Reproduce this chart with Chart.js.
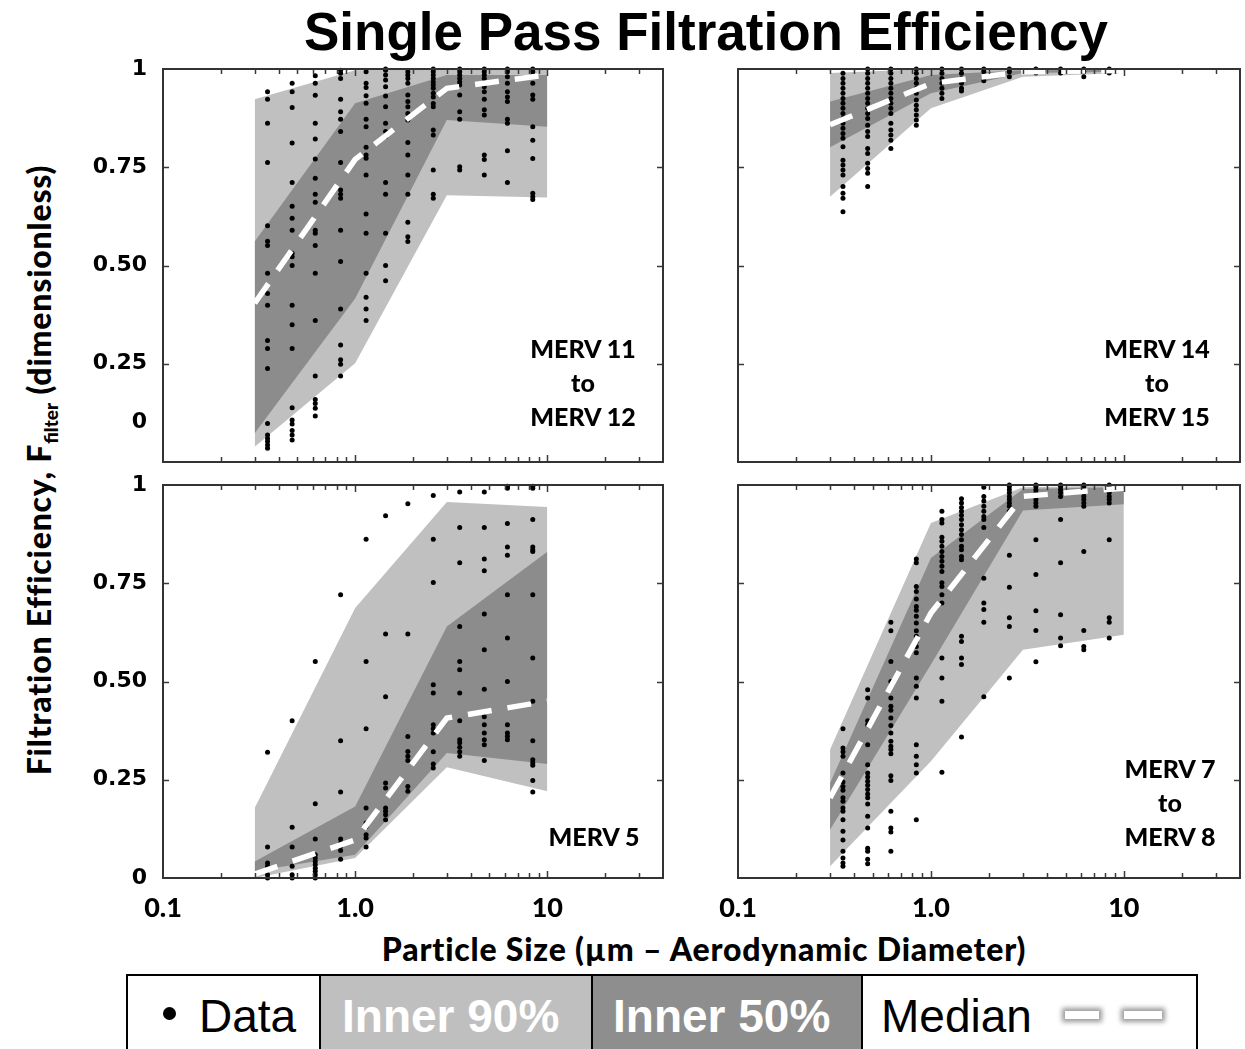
<!DOCTYPE html>
<html>
<head>
<meta charset="utf-8">
<script src="https://cdn.jsdelivr.net/npm/chart.js@4.4.1/dist/chart.umd.min.js"></script>
<style>
  html, body { margin: 0; padding: 0; background: #fff; }
  #wrap { position: relative; width: 1245px; height: 1049px; overflow: hidden; font-family: Lato, "Open Sans", sans-serif; }
  canvas { position: absolute; }
  .txt { position: absolute; font-weight: 900; color: #000; white-space: nowrap; }
  #title { left: 706px; top: 5px; transform: translateX(-50%); font: bold 53px "Liberation Sans", Arial, sans-serif; line-height: 53px; }
  #ytitle { left: 40px; top: 470px; transform: translate(-50%, -50%) rotate(-90deg); font-size: 32px; letter-spacing: 0.8px; }
  #ytitle sub { font-size: 19px; vertical-align: -7px; letter-spacing: 0; }
  #xtitle { left: 704px; top: 948px; transform: translate(-50%, -50%); font-size: 32px; letter-spacing: 0.8px; }
  .merv { text-align: center; font-size: 25px; line-height: 34px; transform: translateX(-50%); }
  #legend { position: absolute; left: 126px; top: 974px; width: 1068px; height: 100px; border: 2px solid #000; display: flex; font-family: "Liberation Sans", Arial, sans-serif; }
  #legend .cell { position: relative; height: 100%; box-sizing: border-box; }
  #legend .cell + .cell { border-left: 2px solid #000; }
  .ltxt { position: absolute; top: 14px; font-size: 46px; line-height: 52px; }
  .dash { position: absolute; top: 35px; height: 8px; background: #fff; box-shadow: 0 0 5px 3px #9a9a9a; }
</style>
</head>
<body>
<div id="wrap">
  <div id="title" class="txt">Single Pass Filtration Efficiency</div>
  <div id="ytitle" class="txt">Filtration Efficiency, F<sub>filter</sub> (dimensionless)</div>
  <div id="xtitle" class="txt">Particle Size (µm – Aerodynamic Diameter)</div>

  <canvas id="c11" width="693" height="453" style="left:0; top:39px;"></canvas>
  <canvas id="c14" width="537" height="453" style="left:708px; top:39px;"></canvas>
  <canvas id="c5" width="693" height="468" style="left:0; top:455px;"></canvas>
  <canvas id="c7" width="552" height="468" style="left:693px; top:455px;"></canvas>

  <div class="txt merv" style="left:583px; top:331px;">MERV 11<br>to<br>MERV 12</div>
  <div class="txt merv" style="left:1157px; top:331px;">MERV 14<br>to<br>MERV 15</div>
  <div class="txt merv" style="left:594px; top:819px;">MERV 5</div>
  <div class="txt merv" style="left:1170px; top:751px;">MERV 7<br>to<br>MERV 8</div>

  <div id="legend">
    <div class="cell" style="width:191px; background:#fff;">
      <div style="position:absolute; left:35px; top:31px; width:13px; height:13px; border-radius:50%; background:#000;"></div>
      <div class="ltxt" style="left:71px;">Data</div>
    </div>
    <div class="cell" style="width:272px; background:#bfbfbf;">
      <div class="ltxt" style="left:21px; color:#fff; font-weight:bold;">Inner 90%</div>
    </div>
    <div class="cell" style="width:270px; background:#8e8e8e;">
      <div class="ltxt" style="left:20px; color:#fff; font-weight:bold;">Inner 50%</div>
    </div>
    <div class="cell" style="flex:1; background:#fff;">
      <div class="ltxt" style="left:18px;">Median</div>
      <div class="dash" style="left:202px; width:34px;"></div>
      <div class="dash" style="left:261px; width:38px;"></div>
    </div>
  </div>
</div>

<script>
// particle size bins (µm) where the measurements sit
const binSizes = [0.35, 0.47, 0.62, 0.84, 1.14, 1.44, 1.88, 2.55, 3.5, 4.7, 6.2, 8.4];
// x positions of the percentile envelopes
const bandSizes = [0.3, 1.0, 3.0, 10];

// --- MERV 11 to MERV 12 ---
const merv11Points = [
  [0.942, 0.923, 0.862, 0.762, 0.601, 0.562, 0.551, 0.480, 0.429, 0.399, 0.309, 0.289, 0.238, 0.098, 0.069, 0.060, 0.052, 0.043, 0.035],
  [0.964, 0.942, 0.902, 0.812, 0.711, 0.651, 0.620, 0.590, 0.531, 0.522, 0.500, 0.399, 0.349, 0.289, 0.138, 0.107, 0.097, 0.080, 0.069, 0.056],
  [0.983, 0.964, 0.933, 0.862, 0.822, 0.771, 0.722, 0.681, 0.661, 0.590, 0.582, 0.551, 0.480, 0.360, 0.219, 0.159, 0.149, 0.137, 0.117],
  [0.997, 0.989, 0.976, 0.923, 0.891, 0.872, 0.841, 0.762, 0.692, 0.681, 0.671, 0.590, 0.510, 0.389, 0.298, 0.260, 0.249, 0.219],
  [0.993, 0.964, 0.953, 0.932, 0.913, 0.872, 0.853, 0.801, 0.781, 0.773, 0.730, 0.631, 0.582, 0.480, 0.419, 0.389, 0.360],
  [1.0, 0.997, 0.985, 0.972, 0.955, 0.931, 0.904, 0.862, 0.841, 0.828, 0.711, 0.681, 0.582, 0.500, 0.461],
  [0.993, 0.985, 0.976, 0.964, 0.934, 0.917, 0.904, 0.887, 0.870, 0.813, 0.781, 0.730, 0.681, 0.610, 0.573, 0.561],
  [1.0, 0.993, 0.985, 0.976, 0.967, 0.959, 0.951, 0.938, 0.929, 0.912, 0.904, 0.845, 0.832, 0.743, 0.681, 0.671],
  [1.0, 0.993, 0.985, 0.976, 0.967, 0.959, 0.934, 0.891, 0.872, 0.751, 0.743],
  [1.0, 0.993, 0.985, 0.976, 0.955, 0.942, 0.923, 0.896, 0.883, 0.781, 0.770, 0.730],
  [1.0, 0.993, 0.980, 0.964, 0.942, 0.929, 0.917, 0.872, 0.862, 0.792, 0.711],
  [1.0, 0.993, 0.985, 0.964, 0.934, 0.923, 0.853, 0.819, 0.772, 0.684, 0.675, 0.668]
];
const merv11LightHi = [0.923, 0.997, 1.0, 1.0];
const merv11LightLo = [0.039, 0.251, 0.679, 0.673];
const merv11DarkHi = [0.561, 0.913, 0.985, 0.985];
const merv11DarkLo = [0.073, 0.416, 0.870, 0.853];
const merv11Median = [0.404, 0.770, 0.951, 0.985];

// --- MERV 14 to MERV 15 ---
const merv14Points = [
  [0.989, 0.976, 0.964, 0.951, 0.938, 0.925, 0.913, 0.900, 0.887, 0.874, 0.862, 0.849, 0.836, 0.824, 0.802, 0.768, 0.756, 0.743, 0.730, 0.701, 0.684, 0.671, 0.637],
  [1.0, 0.989, 0.976, 0.964, 0.951, 0.938, 0.925, 0.913, 0.900, 0.887, 0.874, 0.857, 0.841, 0.828, 0.798, 0.785, 0.760, 0.747, 0.735, 0.701],
  [1.0, 0.989, 0.976, 0.964, 0.951, 0.938, 0.925, 0.913, 0.900, 0.887, 0.862, 0.845, 0.832, 0.819, 0.798],
  [1.0, 0.989, 0.976, 0.964, 0.951, 0.938, 0.921, 0.908, 0.896, 0.883, 0.870, 0.857],
  [1.0, 0.989, 0.976, 0.964, 0.951, 0.938, 0.925],
  [1.0, 0.989, 0.976, 0.964, 0.951, 0.944],
  [1.0, 0.993, 0.983, 0.970],
  [1.0, 0.993, 0.980],
  [1.0, 0.990],
  [1.0, 0.990],
  [1.0, 0.993, 0.980],
  [1.0, 0.990]
];
const merv14LightHi = [0.990, 1.0, 1.0, 1.0];
const merv14LightLo = [0.675, 0.900, 0.980, 0.990];
const merv14DarkHi = [0.917, 0.985, 0.997, 0.998];
const merv14DarkLo = [0.801, 0.938, 0.990, 0.993];
const merv14Median = [0.858, 0.963, 0.993, 0.996];

// --- MERV 5 ---
const merv5Points = [
  [0.320, 0.079, 0.038, 0.030, 0.008, 0.0],
  [0.400, 0.129, 0.079, 0.030, 0.008, 0.0],
  [0.551, 0.189, 0.099, 0.059, 0.051, 0.042, 0.034, 0.025, 0.017, 0.008, 0.0],
  [0.721, 0.349, 0.219, 0.099, 0.089, 0.081, 0.070, 0.048],
  [0.862, 0.551, 0.380, 0.178, 0.140, 0.131, 0.110, 0.102, 0.079],
  [0.922, 0.621, 0.461, 0.242, 0.229, 0.178, 0.170, 0.161, 0.148],
  [0.952, 0.621, 0.360, 0.322, 0.310, 0.299, 0.233, 0.221],
  [0.973, 0.862, 0.752, 0.492, 0.471, 0.390, 0.380, 0.369, 0.321, 0.290, 0.280],
  [0.982, 0.892, 0.802, 0.640, 0.551, 0.530, 0.471, 0.400, 0.352, 0.344, 0.333, 0.321, 0.310],
  [0.982, 0.892, 0.812, 0.782, 0.672, 0.581, 0.480, 0.410, 0.390, 0.369, 0.352, 0.339, 0.299],
  [0.997, 0.992, 0.902, 0.842, 0.821, 0.721, 0.611, 0.500, 0.390, 0.369, 0.361, 0.352],
  [0.997, 0.992, 0.912, 0.842, 0.835, 0.831, 0.721, 0.560, 0.450, 0.349, 0.301, 0.293, 0.287, 0.248, 0.219]
];
const merv5LightHi = [0.178, 0.687, 0.957, 0.944];
const merv5LightLo = [0.0, 0.051, 0.282, 0.221];
const merv5DarkHi = [0.042, 0.182, 0.640, 0.830];
const merv5DarkLo = [0.017, 0.059, 0.318, 0.290];
const merv5Median = [0.010, 0.097, 0.407, 0.450];

// --- MERV 7 to MERV 8 ---
const merv7Points = [
  [0.380, 0.331, 0.321, 0.310, 0.267, 0.244, 0.233, 0.223, 0.204, 0.195, 0.178, 0.170, 0.148, 0.119, 0.097, 0.068, 0.051, 0.038, 0.030],
  [0.479, 0.458, 0.400, 0.390, 0.339, 0.288, 0.267, 0.257, 0.246, 0.236, 0.225, 0.214, 0.204, 0.188, 0.157, 0.127, 0.076, 0.068, 0.048, 0.036],
  [0.651, 0.629, 0.551, 0.500, 0.458, 0.437, 0.427, 0.407, 0.388, 0.369, 0.348, 0.335, 0.327, 0.316, 0.260, 0.248, 0.170, 0.127, 0.117, 0.068],
  [0.812, 0.802, 0.742, 0.729, 0.710, 0.691, 0.681, 0.666, 0.649, 0.629, 0.615, 0.602, 0.589, 0.573, 0.509, 0.488, 0.458, 0.339, 0.310, 0.288, 0.267, 0.148],
  [0.933, 0.912, 0.903, 0.867, 0.857, 0.844, 0.831, 0.818, 0.806, 0.793, 0.780, 0.751, 0.742, 0.721, 0.700, 0.560, 0.509, 0.450, 0.269],
  [0.965, 0.954, 0.943, 0.933, 0.923, 0.912, 0.899, 0.886, 0.874, 0.861, 0.844, 0.835, 0.818, 0.810, 0.615, 0.602, 0.560, 0.543, 0.359],
  [0.994, 0.971, 0.959, 0.946, 0.933, 0.920, 0.912, 0.892, 0.763, 0.700, 0.683, 0.651, 0.461],
  [1.0, 0.996, 0.988, 0.980, 0.971, 0.963, 0.954, 0.946, 0.933, 0.821, 0.740, 0.662, 0.640, 0.509],
  [1.0, 0.996, 0.988, 0.980, 0.971, 0.963, 0.954, 0.946, 0.861, 0.772, 0.680, 0.630, 0.550],
  [1.0, 0.996, 0.988, 0.980, 0.971, 0.912, 0.802, 0.670, 0.611, 0.591],
  [1.0, 0.996, 0.988, 0.980, 0.971, 0.963, 0.954, 0.946, 0.831, 0.630, 0.589, 0.581],
  [1.0, 0.996, 0.988, 0.980, 0.971, 0.963, 0.954, 0.861, 0.662, 0.651, 0.611]
];
const merv7LightHi = [0.327, 0.903, 0.994, 0.999];
const merv7LightLo = [0.030, 0.297, 0.581, 0.619];
const merv7DarkHi = [0.242, 0.814, 0.990, 0.995];
const merv7DarkLo = [0.123, 0.543, 0.935, 0.951];
const merv7Median = [0.204, 0.674, 0.971, 0.992];

// axis ticks (the top row puts its "0" label at 0.1, as in the original figure)
const xTickVals = [0.1, 1, 10];
const xTickLabels = ['0.1', '1.0', '10'];
const yTickValsTop = [0.1, 0.25, 0.5, 0.75, 1];
const yTickValsBottom = [0, 0.25, 0.5, 0.75, 1];
const yTickLabels = ['0', '0.25', '0.50', '0.75', '1'];
const xMinorTicks = [0.2, 0.3, 0.4, 0.5, 0.6, 0.7, 0.8, 0.9, 1, 2, 3, 4, 5, 6, 7, 8, 9, 10, 20, 30];
const yTickMarks = [0.25, 0.5, 0.75];

const LIGHT = '#c0c0c0';
const DARK = '#8c8c8c';

// frame round the plot area + inward tick marks
const framePlugin = {
  id: 'frame',
  afterDraw(chart) {
    const { ctx, chartArea: a, scales } = chart;
    ctx.save();
    ctx.strokeStyle = '#3a3a3a';
    ctx.lineWidth = 1.5;
    ctx.beginPath();
    xMinorTicks.forEach(v => {
      const px = Math.round(scales.x.getPixelForValue(v)) + 0.5;
      const len = xTickVals.includes(v) ? 7 : 5;
      ctx.moveTo(px, a.top); ctx.lineTo(px, a.top + len);
      ctx.moveTo(px, a.bottom); ctx.lineTo(px, a.bottom - len);
    });
    yTickMarks.forEach(v => {
      const py = Math.round(scales.y.getPixelForValue(v)) + 0.5;
      ctx.moveTo(a.left, py); ctx.lineTo(a.left + 6, py);
      ctx.moveTo(a.right, py); ctx.lineTo(a.right - 6, py);
    });
    ctx.stroke();
    ctx.lineWidth = 2;
    ctx.strokeStyle = '#333';
    ctx.strokeRect(a.left, a.top, a.right - a.left, a.bottom - a.top);
    ctx.restore();
  }
};

function bandLine(vals) {
  return vals.map((v, i) => ({ x: bandSizes[i], y: v }));
}

function buildDatasets(points, lightHi, lightLo, darkHi, darkLo, median) {
  const pts = [];
  points.forEach((col, i) => col.forEach(v => pts.push({ x: binSizes[i], y: v })));
  const edge = { type: 'line', borderWidth: 0, borderColor: 'transparent', pointRadius: 0, tension: 0 };
  return [
    { type: 'line', data: bandLine(median), borderColor: '#fff', borderWidth: 5.5, borderDash: [24, 16],
      borderCapStyle: 'butt', pointRadius: 0, fill: false, tension: 0, order: 0 },
    { type: 'scatter', data: pts, pointRadius: 2.5, pointBackgroundColor: '#000', pointBorderWidth: 0,
      backgroundColor: '#000', clip: false, order: 1 },
    { ...edge, data: bandLine(darkHi), fill: '+1', backgroundColor: DARK, order: 2 },
    { ...edge, data: bandLine(darkLo), fill: false, order: 2 },
    { ...edge, data: bandLine(lightHi), fill: '+1', backgroundColor: LIGHT, order: 3 },
    { ...edge, data: bandLine(lightLo), fill: false, order: 3 }
  ];
}

function makePanel(canvasId, datasets, opts) {
  const yVals = opts.top ? yTickValsTop : yTickValsBottom;
  return new Chart(document.getElementById(canvasId), {
    type: 'scatter',
    data: { datasets: datasets },
    options: {
      responsive: false,
      animation: false,
      devicePixelRatio: 1,
      layout: { padding: opts.padding },
      plugins: { legend: { display: false }, tooltip: { enabled: false } },
      scales: {
        x: {
          type: 'logarithmic',
          min: 0.1,
          max: 40,
          display: !opts.top,
          grid: { display: false, drawTicks: false },
          border: { display: false },
          afterBuildTicks: s => { s.ticks = xTickVals.map(v => ({ value: v })); },
          afterFit: s => { if (!opts.top) s.height = 45; },
          ticks: {
            padding: 14,
            color: '#000',
            font: { family: 'Lato', weight: '900', size: 27 },
            maxRotation: 0,
            autoSkip: false,
            callback: (v, i) => xTickLabels[i]
          }
        },
        y: {
          min: 0,
          max: 1,
          display: opts.left,
          grid: { display: false, drawTicks: false },
          border: { display: false },
          afterBuildTicks: s => { s.ticks = yVals.map(v => ({ value: v })); },
          afterFit: s => { if (opts.left) s.width = 163; },
          ticks: {
            padding: 16,
            color: '#000',
            font: { family: 'DejaVu Sans', weight: 'bold', size: 22 },
            callback: (v, i) => yTickLabels[i]
          }
        }
      }
    },
    plugins: [framePlugin]
  });
}

makePanel('c11', buildDatasets(merv11Points, merv11LightHi, merv11LightLo, merv11DarkHi, merv11DarkLo, merv11Median),
  { top: true, left: true, padding: { top: 30, right: 30, bottom: 30, left: 0 } });
makePanel('c14', buildDatasets(merv14Points, merv14LightHi, merv14LightLo, merv14DarkHi, merv14DarkLo, merv14Median),
  { top: true, left: false, padding: { top: 30, right: 5, bottom: 30, left: 30 } });
makePanel('c5', buildDatasets(merv5Points, merv5LightHi, merv5LightLo, merv5DarkHi, merv5DarkLo, merv5Median),
  { top: false, left: true, padding: { top: 30, right: 30, bottom: 0, left: 0 } });
makePanel('c7', buildDatasets(merv7Points, merv7LightHi, merv7LightLo, merv7DarkHi, merv7DarkLo, merv7Median),
  { top: false, left: false, padding: { top: 30, right: 5, bottom: 0, left: 45 } });
</script>
</body>
</html>
